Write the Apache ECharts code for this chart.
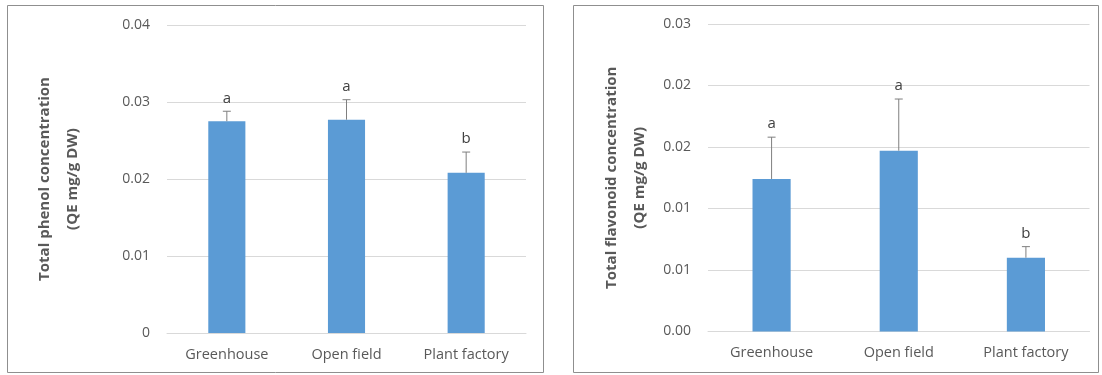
<!DOCTYPE html>
<html><head><meta charset="utf-8">
<script src="https://cdn.jsdelivr.net/npm/echarts@6/dist/echarts.min.js"></script>
<style>html,body{margin:0;padding:0;background:#fff}#c{width:1102px;height:375px}</style>
</head><body><div id="c"></div>
<script>
var categories = ['Greenhouse', 'Open field', 'Plant factory'];
var phenolValues = [0.0275, 0.0277, 0.0208];
var phenolErrors = [0.0013, 0.0026, 0.0027];
var phenolLetters = ['a', 'a', 'b'];
var flavValues = [0.0124, 0.0147, 0.0060];
var flavErrors = [0.0034, 0.0042, 0.0009];
var flavLetters = ['a', 'a', 'b'];
var phenolTicks = {min: 0, max: 0.04, interval: 0.01};
var flavTicks = {min: 0, max: 0.025, interval: 0.005};

var FONT = '"Open Sans", "Noto Sans", sans-serif';
var TXT = '#595959';
var BAR = '#5B9BD5';

function errSeries(xi, yi, vals, errs, letters) {
  return {
    type: 'custom', xAxisIndex: xi, yAxisIndex: yi, z: 5,
    data: vals.map(function (v, i) { return [i, v, errs[i]]; }),
    renderItem: function (params, api) {
      var i = api.value(0), v = api.value(1), e = api.value(2);
      var p0 = api.coord([i, v]);
      var p1 = api.coord([i, v + e]);
      var st = {stroke: '#7f7f7f', lineWidth: 1};
      return {type: 'group', children: [
        {type: 'line', shape: {x1: p0[0], y1: p0[1], x2: p1[0], y2: p1[1]}, style: st},
        {type: 'line', shape: {x1: p1[0] - 4, y1: p1[1], x2: p1[0] + 4, y2: p1[1]}, style: st},
        {type: 'text', x: p1[0], y: p1[1] - 13, style: {text: letters[params.dataIndex], fill: '#404040', font: '15px ' + FONT, textAlign: 'center', textVerticalAlign: 'middle'}}
      ]};
    }
  };
}

function roundLabel(v) {
  return (Math.round(v * 100 + 1e-6) / 100).toFixed(2);
}

function yAxis(gi, t, name, gap, fmt) {
  return {
    type: 'value', gridIndex: gi, min: t.min, max: t.max, interval: t.interval,
    name: name, nameLocation: 'middle', nameGap: gap, nameRotate: 90,
    nameTextStyle: {color: TXT, fontFamily: FONT, fontSize: 15, fontWeight: 'bold', lineHeight: 28},
    axisLine: {show: false}, axisTick: {show: false},
    axisLabel: {color: TXT, fontFamily: FONT, fontSize: 14, margin: 17, formatter: fmt},
    splitLine: {lineStyle: {color: '#D9D9D9', width: 1}}
  };
}
function xAxis(gi) {
  return {
    type: 'category', gridIndex: gi, data: categories,
    axisLine: {lineStyle: {color: '#D9D9D9'}}, axisTick: {show: false},
    axisLabel: {color: TXT, fontFamily: FONT, fontSize: 14.5, margin: 14}
  };
}

var chart = echarts.init(document.getElementById('c'), null, {renderer: 'canvas'});
chart.setOption({
  animation: false,
  backgroundColor: '#fff',
  graphic: [
    {type: 'rect', shape: {x: 7.5, y: 5.5, width: 536, height: 367}, style: {fill: null, stroke: '#8f8f8f', lineWidth: 1}},
    {type: 'rect', shape: {x: 573.5, y: 5.5, width: 525, height: 367}, style: {fill: null, stroke: '#8f8f8f', lineWidth: 1}}
  ],
  grid: [
    {left: 167, right: 576, top: 25, bottom: 42},
    {left: 708, right: 12.5, top: 24, bottom: 43.5}
  ],
  xAxis: [xAxis(0), xAxis(1)],
  yAxis: [
    yAxis(0, phenolTicks, 'Total phenol concentration\n(QE mg/g DW)', 80, function (v) { return v === 0 ? '0' : roundLabel(v); }),
    yAxis(1, flavTicks, 'Total flavonoid concentration\n(QE mg/g DW)', 54, roundLabel)
  ],
  series: [
    {type: 'bar', xAxisIndex: 0, yAxisIndex: 0, data: phenolValues, barWidth: '31%', itemStyle: {color: BAR}},
    errSeries(0, 0, phenolValues, phenolErrors, phenolLetters),
    {type: 'bar', xAxisIndex: 1, yAxisIndex: 1, data: flavValues, barWidth: '30%', itemStyle: {color: BAR}},
    errSeries(1, 1, flavValues, flavErrors, flavLetters)
  ]
});
</script></body></html>
